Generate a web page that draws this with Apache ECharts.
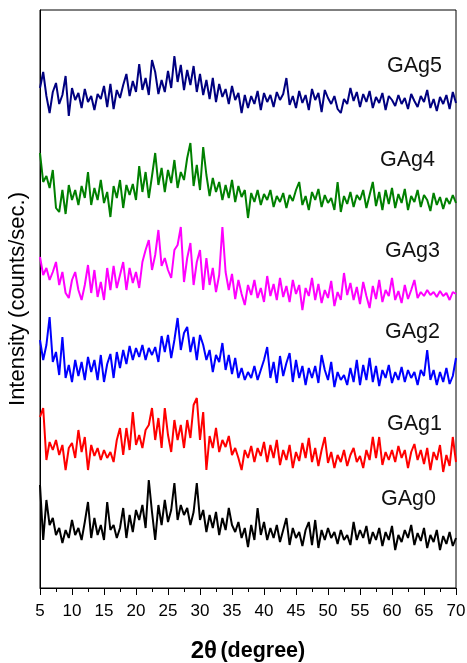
<!DOCTYPE html>
<html>
<head>
<meta charset="utf-8">
<script src="https://cdn.jsdelivr.net/npm/echarts@6/dist/echarts.min.js"></script>
<style>
html,body{margin:0;padding:0;background:#fff;}
#chart{width:467px;height:663px;}
</style>
</head>
<body>
<div id="chart"></div>
<script>
// 2θ sampling (degree)
const twoTheta = Array.from({length: 131}, (_, i) => 5 + 0.5 * i);
const xTicks = [5,10,15,20,25,30,35,40,45,50,55,60,65,70];
const seriesNames = ['GAg0','GAg1','GAg2','GAg3','GAg4','GAg5'];

// intensities (arbitrary units, stacked with offsets as in the figure)
const gag5 = [500,516,492,475,496,505,484,493,512,472,500,488,495,480,499,486,492,478,494,489,
502,481,504,479,498,490,503,514,492,507,496,524,498,510,493,528,516,494,508,496,
517,500,532,506,523,498,518,503,522,496,514,493,508,489,510,486,504,491,499,484,
502,488,495,475,493,480,492,484,497,478,495,486,493,481,496,488,494,510,483,492,
480,497,485,493,478,499,488,495,476,498,490,484,492,479,475,489,484,500,487,496,
481,494,486,497,480,491,485,495,478,492,488,482,493,484,490,479,494,487,481,492,
486,498,480,489,477,491,484,493,479,496,485];
const gag4 = [435,406,412,400,418,380,376,398,374,403,388,398,383,402,390,416,383,400,388,408,
385,396,371,402,390,408,380,403,393,404,388,422,396,416,390,412,435,403,420,396,
418,405,428,400,416,408,430,445,402,423,398,441,413,392,410,396,406,388,403,390,
408,386,402,391,398,370,395,386,398,383,394,388,398,381,392,386,395,380,393,387,
398,406,383,392,378,396,388,399,381,393,385,390,378,406,376,392,384,396,381,393,
388,398,380,393,406,382,396,378,398,384,400,380,394,385,399,378,392,386,398,381,
393,388,377,395,383,391,379,390,384,393,385];
const gag3 = [331,313,320,308,316,326,303,316,295,290,308,316,298,288,303,323,295,318,291,306,
288,320,298,322,300,313,326,298,320,305,316,300,326,338,348,318,333,358,322,330,
318,310,338,343,361,306,330,345,303,326,338,298,330,303,320,296,313,361,316,298,
314,289,308,294,283,303,293,308,290,300,286,312,292,304,288,310,291,302,286,308,
294,303,278,300,292,310,288,304,285,298,290,307,282,296,288,315,293,305,288,301,
284,306,292,280,302,289,308,286,298,292,310,288,297,285,303,289,298,308,290,296,
292,298,293,296,291,297,292,295,288,296,294];
const gag2 = [248,228,243,271,226,236,213,251,210,223,206,228,212,226,208,231,216,228,208,233,
206,224,234,210,236,220,238,224,242,228,240,231,243,228,240,233,241,226,252,236,
253,230,248,270,238,255,261,236,251,228,253,243,228,238,216,233,226,245,218,233,
214,230,210,220,208,216,210,222,208,218,228,241,210,226,205,232,212,225,235,206,
228,210,222,203,220,210,222,205,233,218,208,226,201,216,208,213,203,220,206,228,
203,223,208,230,206,222,202,218,210,223,205,216,208,221,206,218,210,216,203,218,
212,238,208,218,203,216,206,220,204,212,230];
const gag1 = [171,180,128,146,138,148,133,143,118,140,145,130,158,136,151,118,143,132,140,128,
138,130,136,126,148,160,133,160,138,176,143,153,140,158,163,180,148,170,140,180,
153,136,168,148,163,140,168,150,183,190,148,176,118,152,140,160,136,148,141,152,
133,140,130,118,138,130,142,126,140,132,146,126,143,130,148,123,138,128,143,120,
136,127,145,130,150,126,140,122,138,151,125,136,120,133,126,138,122,133,140,126,
132,120,138,128,151,130,151,123,136,128,138,126,142,130,138,120,136,144,128,138,
124,140,118,136,128,143,116,133,122,151,126];
const gag0 = [103,48,88,63,70,53,60,45,58,50,68,53,60,48,66,86,50,70,53,63,
48,86,58,63,50,60,80,50,73,56,78,68,83,60,108,76,48,83,63,88,
66,78,105,68,83,73,80,63,76,105,68,78,56,73,60,76,53,70,58,80,
63,56,66,50,60,41,63,48,80,53,66,48,60,50,63,46,58,70,43,60,
50,56,42,58,66,43,68,40,58,48,60,50,56,44,58,48,53,43,66,48,
58,50,62,44,56,48,60,42,56,48,62,38,53,46,58,50,63,43,55,47,
60,40,53,46,58,38,52,44,56,42,50];

const seriesValues = [gag0, gag1, gag2, gag3, gag4, gag5];
const seriesColors = ['#000000','#ff0000','#0000ff','#ff00ff','#008000','#000080'];
// label anchor positions (pixels)
const labelPos = [[381,500],[387,425],[385,333],[385,252],[380,161],[387,67]];

const chart = echarts.init(document.getElementById('chart'), null, {renderer: 'canvas'});
const font = '"Liberation Sans", Arial, sans-serif';

const series = seriesNames.map((name, k) => ({
  name: name,
  type: 'line',
  data: seriesValues[k].map((v, i) => [twoTheta[i], v]),
  showSymbol: false,
  symbol: 'none',
  lineStyle: {color: seriesColors[k], width: 2},
  itemStyle: {color: seriesColors[k]},
  animation: false,
  z: 3
}));

const graphic = seriesNames.map((name, k) => ({
  type: 'text',
  left: labelPos[k][0],
  top: labelPos[k][1] - 12,
  style: {text: name, font: '21.5px ' + font, fill: '#111'},
  z: 10
}));

chart.setOption({
  animation: false,
  backgroundColor: '#ffffff',
  grid: {left: 40, right: 11, top: 10, bottom: 75, containLabel: false, outerBoundsMode: 'none',
         show: true, borderColor: '#000', borderWidth: 1, backgroundColor: 'transparent'},
  xAxis: {
    type: 'value',
    min: 5, max: 70, interval: 5,
    axisLine: {show: true, lineStyle: {color: '#000', width: 1}},
    axisTick: {show: true, inside: false, length: 7, lineStyle: {color: '#000', width: 1}},
    minorTick: {show: true, splitNumber: 2, length: 4, lineStyle: {color: '#000', width: 1}},
    splitLine: {show: false},
    minorSplitLine: {show: false},
    axisLabel: {
      margin: 15, color: '#000', fontSize: 17, fontFamily: font,
      formatter: v => xTicks.indexOf(v) >= 0 ? String(v) : ''
    },
    name: '{a|2θ} {b|(degree)}',
    nameLocation: 'middle',
    nameGap: 51,
    nameTextStyle: {
      rich: {
        a: {fontSize: 24, fontWeight: 'bold', fontFamily: font, color: '#000'},
        b: {fontSize: 21.5, fontWeight: 'bold', fontFamily: font, color: '#000'}
      }
    }
  },
  yAxis: {
    type: 'value',
    min: 0, max: 578,
    axisLine: {show: true, lineStyle: {color: '#000', width: 1}},
    axisTick: {show: false},
    axisLabel: {show: false},
    splitLine: {show: false},
    name: 'Intensity (counts/sec.)',
    nameLocation: 'middle',
    nameGap: 11,
    nameTextStyle: {fontSize: 22, fontFamily: font, color: '#000'}
  },
  legend: {show: false},
  tooltip: {show: false},
  graphic: graphic,
  series: series
});
</script>
</body>
</html>
